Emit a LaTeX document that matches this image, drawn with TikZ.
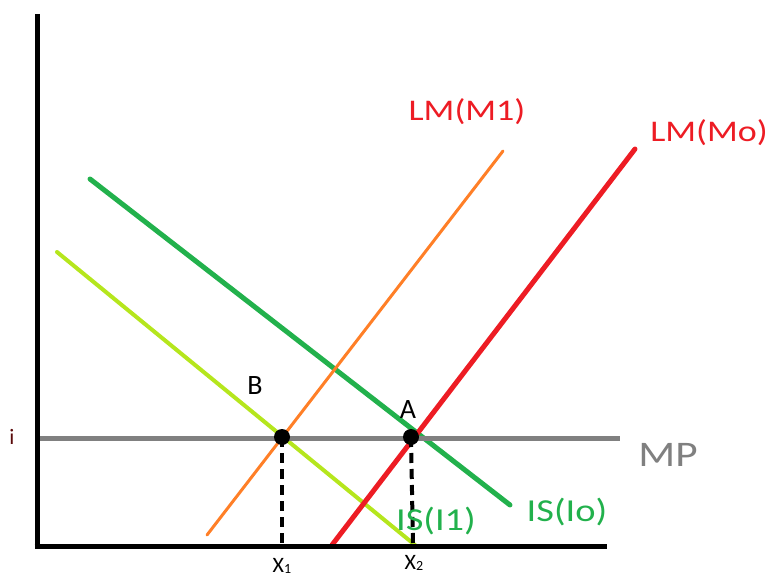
\documentclass[tikz,border=0pt]{standalone}
\usepackage{fontspec}
\usepackage{graphicx}
\setmainfont{Carlito}
\definecolor{lmred}{HTML}{ED1C24}
\definecolor{lmorange}{HTML}{FF7F27}
\definecolor{isgreen}{HTML}{22B14C}
\definecolor{islime}{HTML}{B5E61D}
\definecolor{mpgray}{HTML}{808080}
\definecolor{ired}{HTML}{5A0A0A}
\newcommand\widetxt[1]{\scalebox{1.2}[1]{#1}}
\newcommand\fs[1]{\fontsize{#1}{#1}\selectfont}
\tikzset{
  axisline/.style={line width=5pt, black},
  mpline/.style={line width=5pt, mpgray},
  curve/.style={line width=#1, line cap=round},
  guide/.style={line width=4pt, black, dash pattern=on 10pt off 6pt},
  eqdot/.style={circle, fill=black, inner sep=0pt, minimum size=16pt},
  lbl/.style={inner sep=0pt, anchor=center},
}
\begin{document}
\begin{tikzpicture}[x=1pt,y=-1pt]
\useasboundingbox (0,0) rectangle (771,578);
% coordinates
\coordinate (ytop) at (37,14);
\coordinate (orig) at (37,546);
\coordinate (xend) at (607,546);
\coordinate (mpL) at (37,438);
\coordinate (mpR) at (620,438);
\coordinate (is1a) at (57,252);
\coordinate (is1b) at (415,545);
\coordinate (is0a) at (90,179);
\coordinate (is0b) at (510,505);
\coordinate (lm1a) at (207,535);
\coordinate (lm1b) at (503,151);
\coordinate (lm0a) at (332,545);
\coordinate (lm0b) at (635,149);
\coordinate (x1foot) at (282,546);
\coordinate (x2foot) at (413,546);
% curves
\draw[curve=4pt, islime] (is1a) -- (is1b);
\draw[curve=5pt, isgreen] (is0a) -- (is0b);
\draw[curve=3pt, lmorange] (lm1a) -- (lm1b);
\draw[curve=5pt, lmred] (lm0a) -- (lm0b);
\draw[mpline] (mpL) -- (mpR);
% axes
\draw[axisline] (ytop) -- ([yshift=-2pt]orig);
\draw[axisline] ([xshift=-2.5pt]orig) -- (xend);
% equilibrium points
\node[eqdot] (B) at (282,437) {};
\node[eqdot] (A) at (411,437) {};
\draw[guide] (B.center) -- (x1foot);
\draw[guide] (A.center) -- (x2foot);
% labels
\node[lbl, text=lmred, font=\fs{30}] (lLM1) at (467,112) {\widetxt{LM(M1)}};
\node[lbl, text=lmred, font=\fs{30}] (lLM0) at (709,133) {\widetxt{LM(Mo)}};
\node[lbl, text=isgreen, font=\fs{32}] (lIS1) at (436,521) {\widetxt{IS(I1)}};
\node[lbl, text=isgreen, font=\fs{32}] (lIS0) at (567,512) {\widetxt{IS(Io)}};
\node[lbl, text=mpgray, font=\fs{36}] (lMP) at (668,455) {\widetxt{MP}};
\node[lbl, font=\fs{28}] (lA) at (408,410) {A};
\node[lbl, font=\fs{28}] (lB) at (255,386) {B};
\node[lbl, font=\fs{22}] (lX1) at (282,566) {X\raisebox{-1.5pt}{\fs{14}1}};
\node[lbl, font=\fs{22}] (lX2) at (414,563) {X\raisebox{-1.5pt}{\fs{14}2}};
\node[lbl, text=ired, font=\fs{22}] (li) at (12,437) {i};
\end{tikzpicture}
\end{document}
